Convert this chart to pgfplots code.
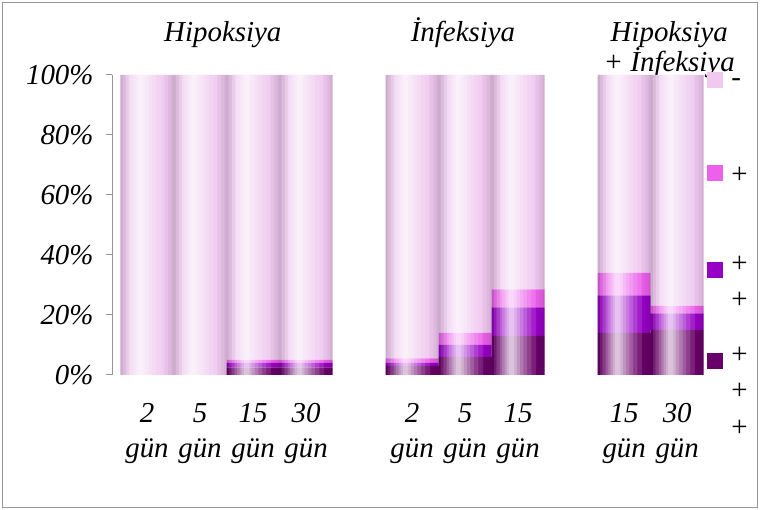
\documentclass[border=0pt]{standalone}
\usepackage{fontspec}
\setmainfont{Liberation Serif}
\usepackage{pgfplots}
\usepackage{pgfplotstable}
\pgfplotsset{compat=1.18}
\definecolor{cMinus}{RGB}{240,200,240}
\definecolor{cPlus}{RGB}{236,96,236}
\definecolor{cPP}{RGB}{152,0,198}
\definecolor{cPPP}{RGB}{105,0,105}
\definecolor{frame}{RGB}{150,150,150}
\newcommand{\bigf}{\fontsize{29}{37}\selectfont}
\pgfplotstableread{
x   ppp   pp    p     m
0   0     0     0     100
1   0     0     0     100
2   2.5   1.5   1     95
3   2.5   1.5   1     95
5   3     1     1.5   94.5
6   6     4     4     86
7   13    9.5   6     71.5
9   14    12.5  7.5   66
10  15    5.5   2.5   77
}\data
\pgfplotstableread{
x   t
0   100
1   100
2   100
3   100
5   100
6   100
7   100
9   100
10  100
}\totals
\begin{document}
\begin{tikzpicture}[x=1bp,y=1bp]
\useasboundingbox (0,0) rectangle (760,510);
\draw[frame, line width=1bp] (2.5,2.5) rectangle (757.5,507.5);
\begin{axis}[
  at={(112bp,135bp)}, anchor=south west,
  scale only axis, width=597bp, height=300bp,
  xmin=-0.66, xmax=10.6, ymin=0, ymax=100,
  axis y line*=left, axis x line*=bottom,
  x axis line style={draw=none},
  y axis line style={draw=frame, line width=1bp},
  ybar stacked, bar width=1,
  clip=false,
  xtick={0,1,2,3,5,6,7,9,10},
  xticklabels={{2\\gün},{5\\gün},{15\\gün},{30\\gün},{2\\gün},{5\\gün},{15\\gün},{15\\gün},{30\\gün}},
  xticklabel style={align=center, font=\fontsize{29}{35}\selectfont\itshape, yshift=-19bp},
  xtick style={draw=none},
  ytick={0,20,40,60,80,100},
  yticklabels={0\%,20\%,40\%,60\%,80\%,100\%},
  yticklabel style={font=\bigf\itshape, xshift=-9bp},
  ytick style={draw=frame, line width=1bp},
  tick align=outside, major tick length=6bp,
  legend style={draw=none, fill=none, at={(0.997,1.01)}, anchor=north west,
    font=\bigf, row sep=75bp, column sep=6bp, inner sep=0pt},
  legend cell align=left,
  reverse legend,
  legend image code/.code={\fill[#1] (0bp,-5bp) rectangle (16bp,11bp);},
]
\addplot[draw=none, fill=cPPP] table[x=x, y=ppp] {\data};
\addplot[draw=none, fill=cPP] table[x=x, y=pp] {\data};
\addplot[draw=none, fill=cPlus] table[x=x, y=p] {\data};
\addplot[draw=none, fill=cMinus] table[x=x, y=m] {\data};
\legend{{\smash{\begin{tabular}[t]{@{}c@{}}+\\+\\+\end{tabular}}},
        {\smash{\begin{tabular}[t]{@{}c@{}}+\\+\end{tabular}}},
        {+},{-}}
\node[font=\bigf\itshape, anchor=base] at (axis cs:1.43,111) {Hipoksiya};
\node[font=\bigf\itshape, anchor=base] at (axis cs:5.96,111) {İnfeksiya};
\node[font=\bigf\itshape, anchor=base] at (axis cs:9.85,111) {Hipoksiya};
\node[font=\bigf\itshape, anchor=base] at (axis cs:9.85,101) {+ İnfeksiya};
\end{axis}
% cylinder shading overlay (same bars, total height)
\begin{axis}[
  at={(112bp,135bp)}, anchor=south west,
  scale only axis, width=597bp, height=300bp,
  xmin=-0.66, xmax=10.6, ymin=0, ymax=100,
  hide axis, clip=false, ybar,
  every axis plot/.append style={draw=none, forget plot},
]
\addplot[fill=white, fill opacity=0.12, bar width=0.80, bar shift=-0.06] table[x=x, y=t] {\totals};
\addplot[fill=white, fill opacity=0.14, bar width=0.66, bar shift=-0.08] table[x=x, y=t] {\totals};
\addplot[fill=white, fill opacity=0.16, bar width=0.52, bar shift=-0.09] table[x=x, y=t] {\totals};
\addplot[fill=white, fill opacity=0.18, bar width=0.40, bar shift=-0.10] table[x=x, y=t] {\totals};
\addplot[fill=white, fill opacity=0.20, bar width=0.29, bar shift=-0.11] table[x=x, y=t] {\totals};
\addplot[fill=white, fill opacity=0.24, bar width=0.19, bar shift=-0.12] table[x=x, y=t] {\totals};
\addplot[fill=white, fill opacity=0.28, bar width=0.10, bar shift=-0.12] table[x=x, y=t] {\totals};
\addplot[fill=black, fill opacity=0.04, bar width=0.16, bar shift=-0.42] table[x=x, y=t] {\totals};
\addplot[fill=black, fill opacity=0.05, bar width=0.10, bar shift=-0.45] table[x=x, y=t] {\totals};
\addplot[fill=black, fill opacity=0.06, bar width=0.04, bar shift=-0.48] table[x=x, y=t] {\totals};
\addplot[fill=black, fill opacity=0.03, bar width=0.18, bar shift=0.41] table[x=x, y=t] {\totals};
\addplot[fill=black, fill opacity=0.04, bar width=0.10, bar shift=0.45] table[x=x, y=t] {\totals};
\addplot[fill=black, fill opacity=0.05, bar width=0.04, bar shift=0.48] table[x=x, y=t] {\totals};
\end{axis}
\end{tikzpicture}
\end{document}
